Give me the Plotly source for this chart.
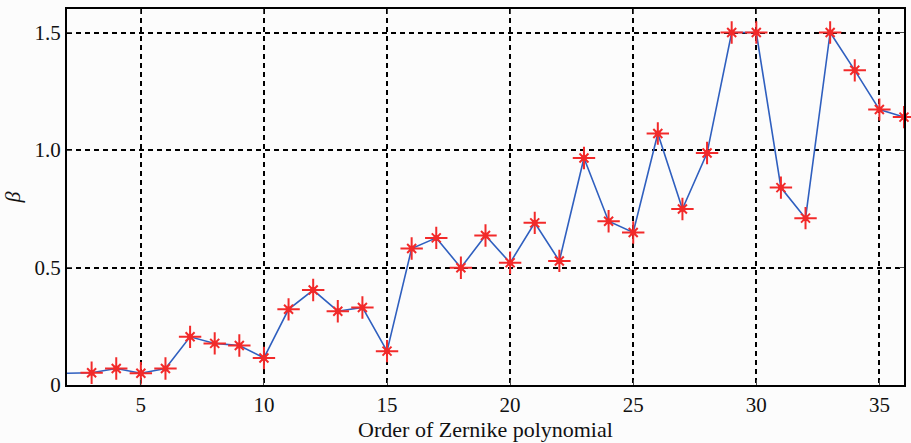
import plotly.graph_objects as go

order = list(range(2, 37))
beta = [0.05, 0.052, 0.07, 0.05, 0.07, 0.205, 0.177, 0.168, 0.115, 0.322, 0.404,
        0.314, 0.33, 0.144, 0.581, 0.626, 0.499, 0.636, 0.52, 0.69, 0.528,
        0.966, 0.697, 0.649, 1.07, 0.749, 0.987, 1.5, 1.5, 0.84, 0.71,
        1.5, 1.339, 1.172, 1.14]
marker_order = order[1:]
marker_beta = beta[1:]

y_ticks = [0, 0.5, 1.0, 1.5]
y_ticktext = ["0", "0.5", "1.0", "1.5"]
x_ticks = [5, 10, 15, 20, 25, 30, 35]

red = "#f22a2a"
fig = go.Figure()
fig.add_trace(go.Scatter(x=order, y=beta, mode="lines",
                         line=dict(color="#2f5fbf", width=1.6), showlegend=False))
fig.add_trace(go.Scatter(x=marker_order, y=marker_beta, mode="markers",
                         marker=dict(symbol="cross-thin-open", size=16, color=red,
                                     line=dict(color=red, width=2)),
                         showlegend=False, cliponaxis=False))
fig.add_trace(go.Scatter(x=marker_order, y=marker_beta, mode="markers",
                         marker=dict(symbol="x-thin-open", size=9, color=red,
                                     line=dict(color=red, width=2)),
                         showlegend=False, cliponaxis=False))
fig.add_trace(go.Scatter(x=marker_order, y=marker_beta, mode="markers",
                         marker=dict(symbol="circle", size=6, color=red,
                                     line=dict(width=0)),
                         showlegend=False, cliponaxis=False))

font = dict(family="Liberation Serif", size=21, color="#111")
fig.update_layout(
    width=911, height=443,
    margin=dict(l=67, r=5, t=9, b=58),
    paper_bgcolor="#fcfcfc", plot_bgcolor="#fcfcfc",
    font=font,
    xaxis=dict(range=[2, 36], tickvals=x_ticks, ticks="inside", ticklen=5,
               showgrid=True, gridcolor="black", griddash="5px,4px", gridwidth=1.6,
               showline=True, linecolor="black", linewidth=2, mirror="ticks",
               zeroline=False,
               title=dict(text="Order of Zernike polynomial", standoff=2,
                          font=dict(size=22, family="Liberation Serif"))),
    yaxis=dict(range=[0, 1.6], tickvals=y_ticks, ticktext=y_ticktext,
               ticks="inside", ticklen=5,
               showgrid=True, gridcolor="black", griddash="5px,4px", gridwidth=1.6,
               showline=True, linecolor="black", linewidth=2, mirror="ticks",
               zeroline=False,
               title=dict(text="<i>β</i>", standoff=12,
                          font=dict(size=22, family="Liberation Serif"))),
)
fig.write_html("out.html")
